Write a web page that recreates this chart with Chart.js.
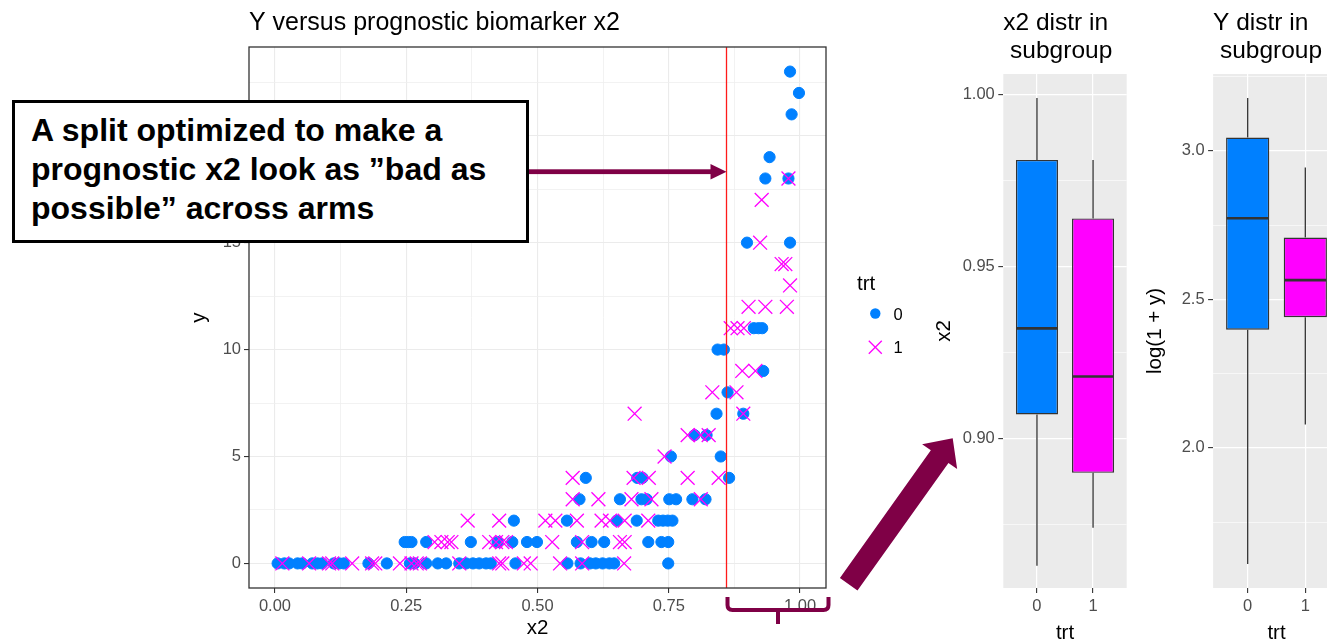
<!DOCTYPE html>
<html>
<head>
<meta charset="utf-8">
<title>Prognostic biomarker x2 and the optimized split</title>
<script src="https://cdn.jsdelivr.net/npm/chart.js@4.4.1/dist/chart.umd.min.js"></script>
<style>
  html, body { margin: 0; padding: 0; width: 1327px; height: 643px; overflow: hidden; background: #ffffff; }
  canvas { position: absolute; top: 0; display: block; }
  #scatter { left: 0; z-index: 1; }
  #boxX2 { left: 930px; z-index: 2; }
  #boxY { left: 1136px; z-index: 2; }
  #note {
    position: absolute; left: 12px; top: 100px; z-index: 5;
    box-sizing: border-box; width: 517px; height: 143px;
    border: 3px solid #000; background: #fff;
    padding: 8px 0 0 16px;
    font: bold 32px/39px 'Liberation Sans', Arial, Helvetica, sans-serif;
    color: #000; white-space: nowrap;
  }
</style>
</head>
<body>
<canvas id="scatter" width="965" height="643"></canvas>
<canvas id="boxX2" width="205" height="646"></canvas>
<canvas id="boxY" width="210" height="646"></canvas>
<div id="note">A split optimized to make a<br>prognostic x2 look as ”bad as<br>possible” across arms</div>

<script>
// ---------------- data ----------------
const trtLevels = ['0', '1'];

// trt = 0 observations, [x2, y]
const trt0Points = [
  [0.005,0],[0.018,0],[0.027,0],[0.043,0],[0.052,0],[0.071,0],[0.081,0],[0.090,0],
  [0.112,0],[0.122,0],[0.131,0],[0.178,0],[0.213,0],[0.257,0],[0.266,0],[0.288,0],
  [0.310,0],[0.326,0],[0.351,0],[0.364,0],[0.377,0],[0.389,0],[0.402,0],[0.411,0],
  [0.458,0],[0.557,0],[0.582,0],[0.600,0],[0.611,0],[0.624,0],[0.637,0],[0.646,0],[0.749,0],
  [0.247,1],[0.254,1],[0.260,1],[0.288,1],[0.373,1],[0.424,1],[0.452,1],[0.480,1],
  [0.499,1],[0.575,1],[0.603,1],[0.627,1],[0.711,1],[0.736,1],[0.749,1],
  [0.455,2],[0.556,2],[0.651,2],[0.689,2],[0.730,2],[0.739,2],[0.748,2],[0.757,2],
  [0.580,3],[0.657,3],[0.698,3],[0.708,3],[0.751,3],[0.764,3],[0.795,3],[0.820,3],
  [0.592,4],[0.690,4],[0.700,4],[0.865,4],
  [0.754,5],[0.849,5],
  [0.799,6],[0.822,6],
  [0.841,7],[0.892,7],
  [0.862,8],
  [0.930,9],
  [0.843,10],[0.855,10],
  [0.912,11],[0.921,11],[0.928,11],
  [0.899,15],[0.981,15],
  [0.934,18],[0.978,18],
  [0.942,19],
  [0.984,21],
  [0.998,22],
  [0.981,23]
];

// trt = 1 observations, [x2, y]
const trt1Points = [
  [0.014,0],[0.065,0],[0.103,0],[0.109,0],[0.147,0],[0.185,0],[0.191,0],[0.238,0],
  [0.260,0],[0.270,0],[0.276,0],[0.351,0],[0.427,0],[0.433,0],[0.474,0],[0.487,0],
  [0.543,0],[0.585,0],[0.665,0],
  [0.304,1],[0.317,1],[0.329,1],[0.336,1],[0.408,1],[0.421,1],[0.433,1],[0.440,1],
  [0.528,1],[0.585,1],[0.657,1],[0.666,1],
  [0.367,2],[0.427,2],[0.515,2],[0.534,2],[0.575,2],[0.622,2],[0.638,2],[0.666,2],[0.711,2],
  [0.567,3],[0.616,3],[0.679,3],[0.717,3],[0.811,3],
  [0.567,4],[0.683,4],[0.712,4],[0.786,4],[0.845,4],
  [0.742,5],
  [0.786,6],[0.811,6],[0.826,6],
  [0.685,7],[0.892,7],
  [0.833,8],[0.879,8],
  [0.890,9],[0.915,9],
  [0.868,11],[0.881,11],[0.893,11],
  [0.902,12],[0.934,12],[0.975,12],
  [0.981,13],
  [0.965,14],[0.972,14],
  [0.924,15],
  [0.927,17],
  [0.978,18]
];

// chosen cut point on x2
const SPLIT_X = 0.86;

// scatter axes
const xRange = [-0.0495, 1.0495];
const yRange = [-1.15, 24.15];
const xMajor = [0, 0.25, 0.5, 0.75, 1];
const xMajorLabels = ['0.00', '0.25', '0.50', '0.75', '1.00'];
const xMinor = [0.125, 0.375, 0.625, 0.875];
const yMajor = [0, 5, 10, 15, 20];
const yMajorLabels = ['0', '5', '10', '15', '20'];
const yMinor = [2.5, 7.5, 12.5, 17.5, 22.5];

// box statistics in the subgroup: [lower whisker, Q1, median, Q3, upper whisker]
const x2BoxTrt0 = [0.863, 0.907, 0.932, 0.981, 0.999];
const x2BoxTrt1 = [0.874, 0.890, 0.918, 0.964, 0.981];
const logyBoxTrt0 = [1.609, 2.398, 2.773, 3.045, 3.178];
const logyBoxTrt1 = [2.079, 2.440, 2.565, 2.708, 2.944];

const x2BoxRange = [0.8565, 1.006];
const x2BoxMajor = [0.90, 0.95, 1.00];
const x2BoxMajorLabels = ['0.90', '0.95', '1.00'];
const x2BoxMinor = [0.875, 0.925, 0.975];

const logyBoxRange = [1.528, 3.259];
const logyBoxMajor = [2.0, 2.5, 3.0];
const logyBoxMajorLabels = ['2.0', '2.5', '3.0'];
const logyBoxMinor = [1.75, 2.25, 2.75, 3.25];

// ---------------- styling ----------------
const FONT = "'Liberation Sans', Arial, Helvetica, sans-serif";
const BLUE = '#0080FF';
const MAGENTA = '#FF00FF';
const INK = '#333333';
const TICK_TEXT = '#4D4D4D';
const PURPLE = '#7F0046';
const TICK_SIZE = 16.5;
const AXIS_TITLE_SIZE = 20.5;

Chart.defaults.font.family = FONT;
Chart.defaults.animation = false;

function setTicks(major, minor) {
  return scale => {
    scale.ticks = major.concat(minor).sort((a, b) => a - b).map(v => ({ value: v }));
  };
}
function tickLabel(major, labels) {
  return v => {
    const k = major.indexOf(v);
    return k < 0 ? '' : labels[k];
  };
}
function seg(ctx, x1, y1, x2, y2) {
  ctx.beginPath();
  ctx.moveTo(x1, y1);
  ctx.lineTo(x2, y2);
  ctx.stroke();
}

// ---------------- scatter: y versus x2 ----------------
const SCATTER_W = 965, SCATTER_H = 643;

const scatterDecor = {
  id: 'scatterDecor',
  afterDraw(chart) {
    const { ctx, chartArea: a, scales: { x } } = chart;
    ctx.save();

    // panel border
    ctx.strokeStyle = INK;
    ctx.lineWidth = 1.3;
    ctx.strokeRect(a.left, a.top, a.width, a.height);

    // legend
    const lx = a.right + 31;
    ctx.fillStyle = '#000';
    ctx.textBaseline = 'alphabetic';
    ctx.textAlign = 'left';
    ctx.font = AXIS_TITLE_SIZE + 'px ' + FONT;
    ctx.fillText('trt', lx, 290);
    const keys = [chart.data.datasets[0], chart.data.datasets[1]];
    const keyY = [313.5, 347.3];
    keys.forEach((ds, i) => {
      const cx = lx + 18.3, cy = keyY[i];
      if (ds.pointStyle === 'circle') {
        ctx.fillStyle = ds.pointBackgroundColor;
        ctx.beginPath();
        ctx.arc(cx, cy, 5.2, 0, Math.PI * 2);
        ctx.fill();
      } else {
        ctx.strokeStyle = ds.pointBorderColor;
        ctx.lineWidth = 1.3;
        const h = 6.5;
        seg(ctx, cx - h, cy - h, cx + h, cy + h);
        seg(ctx, cx - h, cy + h, cx + h, cy - h);
      }
      ctx.fillStyle = '#000';
      ctx.font = TICK_SIZE + 'px ' + FONT;
      ctx.fillText(ds.label, lx + 36.6, cy + 6);
    });

    // arrow from the note to the split line
    const tipX = x.getPixelForValue(SPLIT_X);
    const ay = 171.7;
    ctx.fillStyle = PURPLE;
    ctx.fillRect(529, ay - 2.4, tipX - 15.5 - 529, 4.8);
    ctx.beginPath();
    ctx.moveTo(tipX, ay);
    ctx.lineTo(tipX - 16, ay - 7.8);
    ctx.lineTo(tipX - 16, ay + 7.8);
    ctx.closePath();
    ctx.fill();

    // brace under the subgroup range of x2
    const L = tipX + 1, R = a.right + 2.5, M = (L + R) / 2;
    const top = 597, mid = 610, bot = 624, r = 5;
    ctx.strokeStyle = PURPLE;
    ctx.lineWidth = 4;
    ctx.lineJoin = 'round';
    ctx.beginPath();
    ctx.moveTo(L, top);
    ctx.lineTo(L, mid - r);
    ctx.quadraticCurveTo(L, mid, L + r, mid);
    ctx.lineTo(R - r, mid);
    ctx.quadraticCurveTo(R, mid, R, mid - r);
    ctx.lineTo(R, top);
    ctx.stroke();
    seg(ctx, M, mid, M, bot);

    // block arrow pointing to the subgroup boxplots
    const B = [848.7, 584.2], T = [952.7, 438.3];
    const len = Math.hypot(T[0] - B[0], T[1] - B[1]);
    const u = [(T[0] - B[0]) / len, (T[1] - B[1]) / len];
    const n = [-u[1], u[0]];
    const w = 10.8, hw = 21.5, hl = 22.5;
    const N = [T[0] - u[0] * hl, T[1] - u[1] * hl];
    const P = (p, k) => [p[0] + n[0] * k, p[1] + n[1] * k];
    const poly = [P(B, -w), P(N, -w), P(N, -hw), T, P(N, hw), P(N, w), P(B, w)];
    ctx.beginPath();
    poly.forEach((p, i) => (i ? ctx.lineTo(p[0], p[1]) : ctx.moveTo(p[0], p[1])));
    ctx.closePath();
    ctx.fill();

    ctx.restore();
  }
};

function gridStyle(major, majorColor, minorColor, majorW, minorW) {
  return {
    offset: false,
    color: c => (major.includes(c.tick.value) ? majorColor : minorColor),
    lineWidth: c => (major.includes(c.tick.value) ? majorW : minorW),
    tickColor: c => (major.includes(c.tick.value) ? INK : 'rgba(0,0,0,0)'),
    tickLength: 5,
    tickWidth: 1.1,
    drawTicks: true
  };
}

new Chart(document.getElementById('scatter'), {
  type: 'scatter',
  data: {
    datasets: [
      {
        label: trtLevels[0],
        data: trt0Points.map(p => ({ x: p[0], y: p[1] })),
        pointStyle: 'circle',
        pointRadius: 5.6,
        pointBackgroundColor: BLUE,
        pointBorderColor: BLUE,
        pointBorderWidth: 1,
        order: 3
      },
      {
        label: trtLevels[1],
        data: trt1Points.map(p => ({ x: p[0], y: p[1] })),
        pointStyle: 'crossRot',
        pointRadius: 9.8,
        pointBackgroundColor: MAGENTA,
        pointBorderColor: MAGENTA,
        pointBorderWidth: 1.3,
        order: 2
      },
      {
        label: 'split',
        data: [{ x: SPLIT_X, y: yRange[0] }, { x: SPLIT_X, y: yRange[1] }],
        showLine: true,
        borderColor: '#FF1A1A',
        borderWidth: 1.3,
        pointRadius: 0,
        order: 1
      }
    ]
  },
  options: {
    responsive: false,
    events: [],
    layout: { padding: { left: 186, right: SCATTER_W - 826, top: 0, bottom: 0 } },
    plugins: {
      legend: { display: false },
      tooltip: { enabled: false },
      title: {
        display: true,
        text: 'Y versus prognostic biomarker x2',
        align: 'start',
        fullSize: false,
        color: '#000',
        font: { size: 25, weight: 'normal', family: FONT, lineHeight: 1.2 },
        padding: { top: 8, bottom: 9 }
      }
    },
    scales: {
      x: {
        type: 'linear',
        min: xRange[0], max: xRange[1],
        afterBuildTicks: setTicks(xMajor, xMinor),
        afterFit: s => { s.height = SCATTER_H - 588; },
        ticks: { callback: tickLabel(xMajor, xMajorLabels), color: TICK_TEXT, font: { size: TICK_SIZE }, padding: 4, autoSkip: false, maxRotation: 0 },
        grid: gridStyle(xMajor, '#EBEBEB', '#EFEFEF', 1.1, 0.8),
        border: { display: false },
        title: { display: true, text: 'x2', color: '#000', font: { size: AXIS_TITLE_SIZE }, padding: { top: 0, bottom: 2 } }
      },
      y: {
        type: 'linear',
        min: yRange[0], max: yRange[1],
        afterBuildTicks: setTicks(yMajor, yMinor),
        afterFit: s => { s.width = 63; },
        ticks: { callback: tickLabel(yMajor, yMajorLabels), color: TICK_TEXT, font: { size: TICK_SIZE }, padding: 3, autoSkip: false },
        grid: gridStyle(yMajor, '#EBEBEB', '#EFEFEF', 1.1, 0.8),
        border: { display: false },
        title: { display: true, text: 'y', color: '#000', font: { size: AXIS_TITLE_SIZE }, padding: { top: 1, bottom: 0 } }
      }
    }
  },
  plugins: [scatterDecor]
});

// ---------------- subgroup boxplots ----------------
function boxChart(id, cfg) {
  const canvas = document.getElementById(id);
  const H = canvas.height;
  const stats = cfg.stats;

  const boxParts = {
    id: 'boxParts',
    beforeDraw(chart) {
      const { ctx, chartArea: a } = chart;
      ctx.save();
      ctx.fillStyle = '#EBEBEB';
      ctx.fillRect(a.left, a.top, a.width, a.height);
      ctx.restore();
    },
    afterDatasetsDraw(chart) {
      const { ctx, scales: { x, y } } = chart;
      const meta = chart.getDatasetMeta(0);
      ctx.save();
      ctx.strokeStyle = INK;
      stats.forEach((s, i) => {
        const cx = x.getPixelForValue(i);
        const half = meta.data[i].width / 2;
        ctx.lineWidth = 1.3;
        seg(ctx, cx, y.getPixelForValue(s[3]), cx, y.getPixelForValue(s[4]));
        seg(ctx, cx, y.getPixelForValue(s[1]), cx, y.getPixelForValue(s[0]));
        ctx.lineWidth = 2.6;
        const my = y.getPixelForValue(s[2]);
        seg(ctx, cx - half + 0.7, my, cx + half - 0.7, my);
      });
      ctx.restore();
    }
  };

  return new Chart(canvas, {
    type: 'bar',
    data: {
      datasets: [{
        label: cfg.yTitle,
        data: stats.map((s, i) => ({ x: i, y: [s[1], s[3]] })),
        backgroundColor: [BLUE, MAGENTA],
        borderColor: INK,
        borderWidth: 1.4,
        borderSkipped: false,
        categoryPercentage: 1,
        barPercentage: 0.75
      }]
    },
    options: {
      responsive: false,
      events: [],
      layout: { padding: { left: 0, right: cfg.padRight, top: 0, bottom: 0 } },
      plugins: {
        legend: { display: false },
        tooltip: { enabled: false },
        title: {
          display: true,
          text: cfg.title,
          align: 'start',
          fullSize: false,
          color: '#000',
          font: { size: 24.5, weight: 'normal', family: FONT, lineHeight: 1.143 },
          padding: { top: 9.7, bottom: 8.3 }
        }
      },
      scales: {
        x: {
          type: 'linear',
          offset: false,
          min: -0.6, max: 1.6,
          afterBuildTicks: s => { s.ticks = trtLevels.map((_, i) => ({ value: i })); },
          afterFit: s => { s.height = H - 588; },
          ticks: { callback: v => trtLevels[v], color: TICK_TEXT, font: { size: TICK_SIZE }, padding: 4, autoSkip: false, maxRotation: 0 },
          grid: { offset: false, color: '#FFFFFF', lineWidth: 1.2, tickColor: INK, tickLength: 5, tickWidth: 1.1 },
          border: { display: false },
          title: { display: true, text: 'trt', color: '#000', font: { size: AXIS_TITLE_SIZE }, padding: { top: 0, bottom: 0 } }
        },
        y: {
          type: 'linear',
          min: cfg.range[0], max: cfg.range[1],
          afterBuildTicks: setTicks(cfg.major, cfg.minor),
          afterFit: s => { s.width = cfg.axisWidth; },
          ticks: { callback: tickLabel(cfg.major, cfg.majorLabels), color: TICK_TEXT, font: { size: TICK_SIZE }, padding: 3.5, autoSkip: false },
          grid: gridStyle(cfg.major, '#FFFFFF', '#FFFFFF', 1.2, 0.6),
          border: { display: false },
          title: { display: true, text: cfg.yTitle, color: '#000', font: { size: AXIS_TITLE_SIZE }, padding: { top: cfg.yTitlePad, bottom: 0 } }
        }
      }
    },
    plugins: [boxParts]
  });
}

boxChart('boxX2', {
  title: ['x2 distr in', ' subgroup'],
  yTitle: 'x2',
  stats: [x2BoxTrt0, x2BoxTrt1],
  range: x2BoxRange,
  major: x2BoxMajor,
  majorLabels: x2BoxMajorLabels,
  minor: x2BoxMinor,
  axisWidth: 73.3,
  padRight: 8.3,
  yTitlePad: 2.2
});

boxChart('boxY', {
  title: ['Y distr in', ' subgroup'],
  yTitle: 'log(1 + y)',
  stats: [logyBoxTrt0, logyBoxTrt1],
  range: logyBoxRange,
  major: logyBoxMajor,
  majorLabels: logyBoxMajorLabels,
  minor: logyBoxMinor,
  axisWidth: 77.1,
  padRight: 6.1,
  yTitlePad: 7.5
});
</script>
</body>
</html>
